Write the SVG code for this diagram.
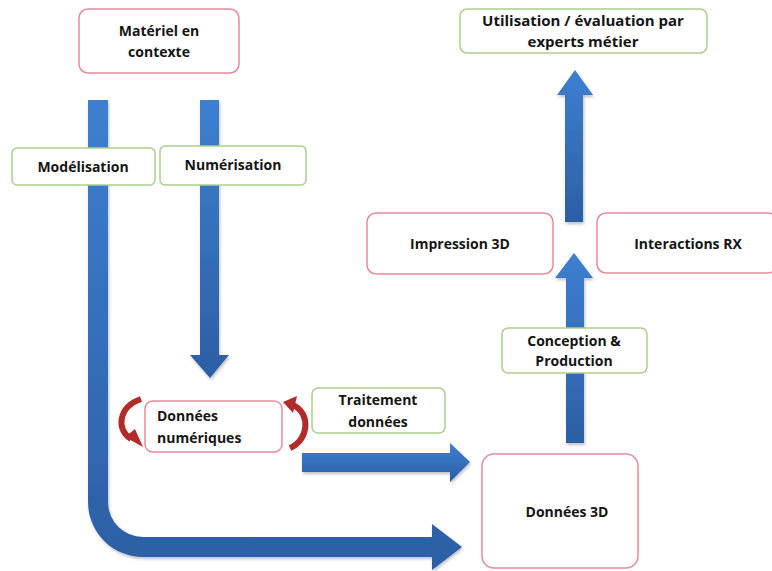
<svg xmlns="http://www.w3.org/2000/svg" width="772" height="571" viewBox="0 0 772 571">
<defs>
<linearGradient id="gv" x1="0" y1="0" x2="0" y2="1">
<stop offset="0" stop-color="#3d7fd0"/>
<stop offset="1" stop-color="#2c5fa4"/>
</linearGradient>
<linearGradient id="gh" x1="0" y1="0" x2="0" y2="1">
<stop offset="0" stop-color="#3a78c6"/>
<stop offset="1" stop-color="#2b5ea3"/>
</linearGradient>
<filter id="sh" x="-20%" y="-20%" width="140%" height="140%">
<feDropShadow dx="1" dy="2" stdDeviation="1.5" flood-color="#000" flood-opacity="0.25"/>
</filter>
<style>
.red{fill:#fff;stroke:#e8899a;stroke-width:1.5}
.grn{fill:#fff;stroke:#a9cf8c;stroke-width:1.5}
.t{font-family:"Open Sans","Liberation Sans",sans-serif;font-weight:bold;font-size:14px;fill:#151515;text-anchor:middle}
.arr{fill:url(#gv);filter:url(#sh)}
.cyc{fill:none;stroke:#b32a2a;stroke-width:6}
.cyh{fill:#b32a2a}
</style>
</defs>
<rect width="772" height="571" fill="#fff"/>
<g id="connectors">
<path class="arr" d="M88,100 L108,100 L108,502 A35,35 0 0 0 143,537 L432,537 L432,524 L462,547 L432,570 L432,557 L143,557 A55,55 0 0 1 88,502 Z"/>
<path class="arr" d="M200,100 L219,100 L219,355 L229,355 L210,378 L190,355 L200,355 Z"/>
<path class="arr" d="M302,453 L450,453 L450,443 L470,462 L450,482 L450,472 L302,472 Z" fill="url(#gh)"/>
<path class="arr" d="M566,443 L566,278 L555,278 L574,253 L593,278 L584,278 L584,443 Z"/>
<path class="arr" d="M565,222 L565,95 L557,95 L575,70 L593,95 L583,95 L583,222 Z"/>
<path class="cyc" d="M141,399 C118,407 116,430 131,439"/>
<polygon class="cyh" points="125,437 135,429 143,447"/>
<path class="cyc" d="M290,448 C309,440 311,413 293,405"/>
<polygon class="cyh" points="283,402 297,396 293,413"/>
</g>
<g id="materiel">
<rect class="red" x="79" y="9" width="160" height="64" rx="9"/>
<text class="t" x="159" y="36">Matériel en</text>
<text class="t" x="159" y="57">contexte</text>
</g>
<g id="modelisation">
<rect class="grn" x="12" y="148" width="143" height="37" rx="5"/>
<text class="t" x="83" y="172">Modélisation</text>
</g>
<g id="numerisation">
<rect class="grn" x="160" y="146" width="146" height="39" rx="5"/>
<text class="t" x="233" y="170">Numérisation</text>
</g>
<g id="donnees-numeriques">
<rect class="red" x="145" y="401" width="137" height="51" rx="8"/>
<text class="t" x="157" y="421" style="text-anchor:start">Données</text>
<text class="t" x="157" y="443" style="text-anchor:start">numériques</text>
</g>
<g id="traitement">
<rect class="grn" x="312" y="388" width="133" height="45" rx="6"/>
<text class="t" x="378" y="405">Traitement</text>
<text class="t" x="378" y="427">données</text>
</g>
<g id="donnees-3d">
<rect class="red" x="482" y="454" width="156" height="114" rx="12"/>
<text class="t" x="567" y="517">Données 3D</text>
</g>
<g id="conception">
<rect class="grn" x="502" y="328" width="145" height="45" rx="6"/>
<text class="t" x="574" y="346">Conception &amp;</text>
<text class="t" x="574" y="366">Production</text>
</g>
<g id="impression">
<rect class="red" x="367" y="213" width="186" height="61" rx="9"/>
<text class="t" x="460" y="249">Impression 3D</text>
</g>
<g id="interactions">
<rect class="red" x="597" y="213" width="180" height="60" rx="9"/>
<text class="t" x="688" y="249">Interactions RX</text>
</g>
<g id="utilisation">
<rect class="grn" x="460" y="9" width="247" height="44" rx="7"/>
<text class="t" x="583" y="26" style="font-size:15px">Utilisation / évaluation par</text>
<text class="t" x="583" y="47" style="font-size:15px">experts métier</text>
</g>
</svg>
